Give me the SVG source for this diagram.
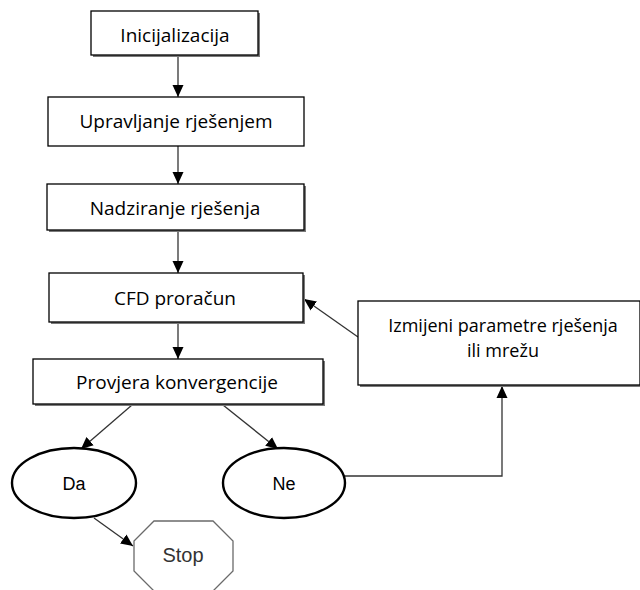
<svg xmlns="http://www.w3.org/2000/svg" width="640" height="590" viewBox="0 0 640 590">
<defs>
<style>
.box{fill:#fff;stroke:#000;stroke-width:1.3}
.shd{fill:#7a7a7a}
.t{font-family:"Open Sans","Liberation Sans",sans-serif;font-size:19px;fill:#000;text-anchor:middle}
.t2{font-size:18px}
.ta{font-family:"Liberation Sans",Arial,sans-serif;font-size:18px;fill:#000;text-anchor:middle}
.ell{fill:#fff;stroke:#000;stroke-width:2.4}
.oct{fill:#fff;stroke:#6a6a6a;stroke-width:1.3}
.c{fill:none;stroke:#333;stroke-width:1.3}
</style>
<marker id="ah" markerUnits="userSpaceOnUse" markerWidth="13" markerHeight="13" viewBox="0 0 13 13" refX="12" refY="6.5" orient="auto">
<path d="M0,1 L12,6.5 L0,12 Z" fill="#000"/>
</marker>
</defs>
<rect width="640" height="590" fill="#fff"/>
<g id="connectors">
<line class="c" x1="178" y1="56" x2="178" y2="97" marker-end="url(#ah)"/>
<line class="c" x1="178" y1="146" x2="178" y2="184" marker-end="url(#ah)"/>
<line class="c" x1="178" y1="230" x2="178" y2="273" marker-end="url(#ah)"/>
<line class="c" x1="178" y1="322" x2="178" y2="359" marker-end="url(#ah)"/>
<line class="c" x1="132" y1="405" x2="81" y2="449" marker-end="url(#ah)"/>
<line class="c" x1="223" y1="405" x2="278" y2="449" marker-end="url(#ah)"/>
<line class="c" x1="94" y1="518" x2="133" y2="546" marker-end="url(#ah)"/>
<polyline class="c" points="345,476 502,476 502,386" marker-end="url(#ah)"/>
<line class="c" x1="358" y1="337" x2="304" y2="299" marker-end="url(#ah)"/>
</g>
<g id="n1">
<rect class="shd" x="93" y="13" width="167" height="44"/>
<rect class="box" x="91" y="11" width="167" height="44"/>
<text class="t" x="175" y="42">Inicijalizacija</text>
</g>
<g id="n2">
<rect class="box" x="48" y="97" width="256" height="49"/>
<text class="t" x="176" y="128">Upravljanje rješenjem</text>
</g>
<g id="n3">
<rect class="shd" x="49" y="186" width="257" height="46"/>
<rect class="box" x="47" y="184" width="257" height="46"/>
<text class="t" x="175" y="215">Nadziranje rješenja</text>
</g>
<g id="n4">
<rect class="shd" x="51" y="275" width="254" height="49"/>
<rect class="box" x="49" y="273" width="254" height="49"/>
<text class="t" x="175" y="305">CFD proračun</text>
</g>
<g id="n5">
<rect class="shd" x="35" y="361" width="290" height="45"/>
<rect class="box" x="33" y="359" width="290" height="45"/>
<text class="t" x="177" y="389">Provjera konvergencije</text>
</g>
<g id="n6">
<rect class="shd" x="360" y="303" width="282" height="84"/>
<rect class="box" x="358" y="301" width="282" height="84"/>
<text class="t t2" x="503" y="332">Izmijeni parametre rješenja</text>
<text class="t t2" x="503" y="357">ili mrežu</text>
</g>
<g id="da">
<ellipse class="ell" cx="74" cy="483" rx="62" ry="35"/>
<text class="ta" x="74" y="490">Da</text>
</g>
<g id="ne">
<ellipse class="ell" cx="284" cy="483" rx="61" ry="35"/>
<text class="ta" x="284" y="490">Ne</text>
</g>
<g id="stop">
<polygon class="oct" points="154,521 213,521 233,541 233,571 213,591 154,591 134,571 134,541"/>
<text class="ta" x="183" y="562" style="font-size:20px;fill:#333">Stop</text>
</g>
</svg>
